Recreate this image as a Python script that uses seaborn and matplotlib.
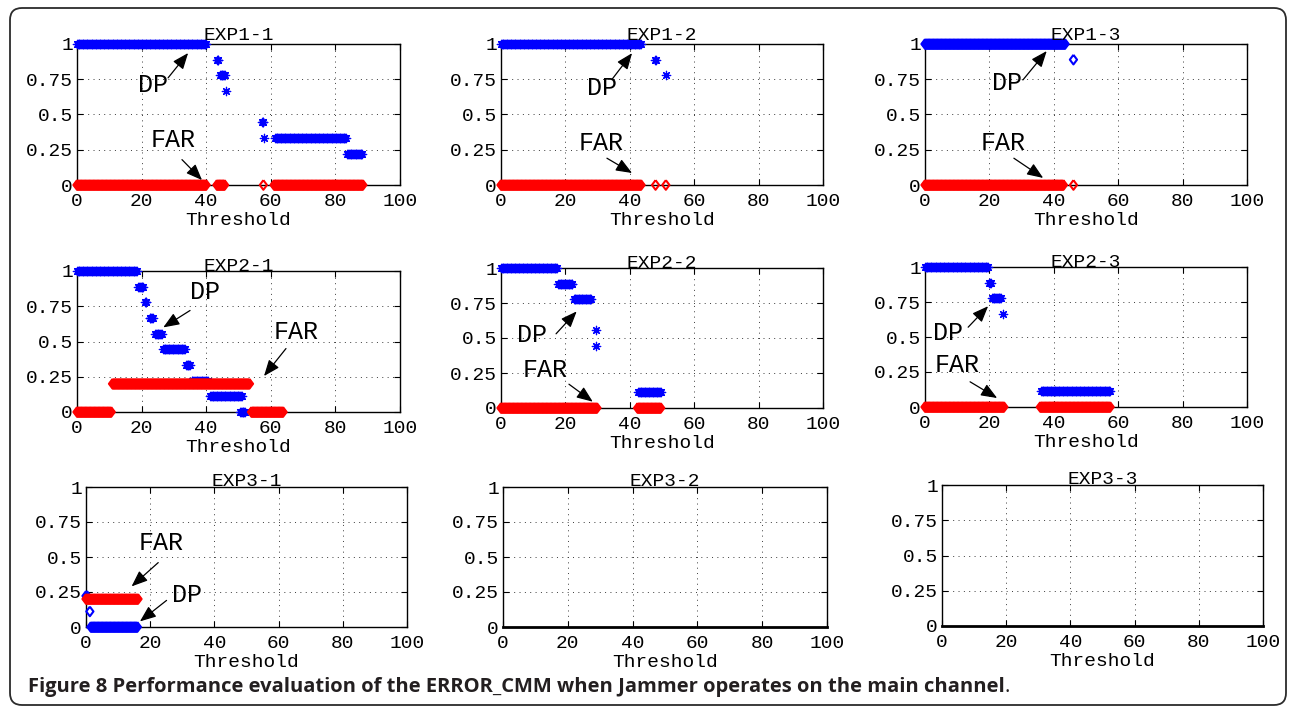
import numpy as np
import pandas as pd
import matplotlib
matplotlib.use("Agg")
import matplotlib.pyplot as plt
from matplotlib.patches import FancyBboxPatch
import seaborn as sns

# ---------------------------------------------------------------------------
# Data: each series is a list of runs (first threshold, last threshold, value)
# ---------------------------------------------------------------------------
THRESHOLD_STEP = 0.25

EXP1_1_DP = [(0, 40, 1.0), (43.3, 43.7, 0.889), (44.3, 45.7, 0.778), (46.2, 46.2, 0.667),
             (57.3, 57.7, 0.444), (58.0, 58.0, 0.333), (61.3, 83.3, 0.333), (83.7, 88.3, 0.222)]
EXP1_1_FAR = [(0, 40, 0.0), (43.3, 45.7, 0.0), (57.7, 57.7, 0.0), (61.0, 88.5, 0.0)]

EXP1_2_DP = [(0, 43.5, 1.0), (47.9, 48.2, 0.889), (51.2, 51.2, 0.778)]
EXP1_2_FAR = [(0, 43.5, 0.0), (48.0, 48.0, 0.0), (51.2, 51.2, 0.0)]

EXP1_3_DP = [(0, 43.5, 1.0), (46.1, 46.1, 0.889)]
EXP1_3_FAR = [(0, 43.0, 0.0), (46.1, 46.1, 0.0)]

EXP2_1_DP = [(0, 18.5, 1.0), (19.0, 20.5, 0.889), (21.0, 21.5, 0.778), (22.5, 23.5, 0.667),
             (24.2, 26.2, 0.556), (26.6, 33.4, 0.444), (33.8, 35.0, 0.333), (35.5, 40.6, 0.222),
             (41.2, 51.0, 0.111), (50.5, 52.0, 0.0)]
EXP2_1_FAR = [(0, 10.6, 0.0), (11.0, 53.4, 0.2), (54.0, 63.8, 0.0)]

EXP2_2_DP = [(0, 17.4, 1.0), (17.8, 22.2, 0.889), (22.6, 28.0, 0.778), (29.4, 29.4, 0.556),
             (29.6, 29.6, 0.444), (42.6, 49.6, 0.111)]
EXP2_2_FAR = [(0, 29.8, 0.0), (42.4, 49.6, 0.0)]

EXP2_3_DP = [(0, 19.6, 1.0), (20.0, 20.5, 0.889), (20.8, 23.6, 0.778), (24.2, 24.2, 0.667),
             (36.0, 57.5, 0.111)]
EXP2_3_FAR = [(0, 24.5, 0.0), (35.8, 57.5, 0.0)]

EXP3_1_DP = [(0, 0.3, 0.222), (1.2, 1.2, 0.111), (1.5, 16.0, 0.0)]
EXP3_1_FAR = [(0, 16.2, 0.2)]

EXP3_2_DP, EXP3_2_FAR = [], []
EXP3_3_DP, EXP3_3_FAR = [], []

PANEL_TITLES = ["EXP1-1", "EXP1-2", "EXP1-3",
                "EXP2-1", "EXP2-2", "EXP2-3",
                "EXP3-1", "EXP3-2", "EXP3-3"]
DP_SERIES = [EXP1_1_DP, EXP1_2_DP, EXP1_3_DP, EXP2_1_DP, EXP2_2_DP, EXP2_3_DP,
             EXP3_1_DP, EXP3_2_DP, EXP3_3_DP]
FAR_SERIES = [EXP1_1_FAR, EXP1_2_FAR, EXP1_3_FAR, EXP2_1_FAR, EXP2_2_FAR, EXP2_3_FAR,
              EXP3_1_FAR, EXP3_2_FAR, EXP3_3_FAR]
DP_MARKER = ["star", "star", "diamond", "star", "star", "star", "diamond", "star", "star"]

X_TICKS = [0, 20, 40, 60, 80, 100]
Y_TICKS = [0, 0.25, 0.5, 0.75, 1]
Y_TICK_LABELS = ["0", "0.25", "0.5", "0.75", "1"]

CAPTION = "Figure 8 Performance evaluation of the ERROR_CMM when Jammer operates on the main channel"

# Arrow call-outs: (label, text x, text y, tail x, tail y, head x, head y)
CALLOUTS = [
    [("DP", 23.5, 0.71, 28.2, 0.76, 34.4, 0.936), ("FAR", 29.7, 0.32, 32.5, 0.18, 38.7, 0.035)],
    [("DP", 31.4, 0.69, 34.5, 0.75, 40.7, 0.935), ("FAR", 31.0, 0.30, 32.9, 0.19, 40.7, 0.085)],
    [("DP", 25.5, 0.72, 30.4, 0.745, 37.8, 0.95), ("FAR", 24.2, 0.30, 27.6, 0.19, 36.7, 0.05)],
    [("DP", 39.6, 0.85, 35.0, 0.72, 26.7, 0.60), ("FAR", 67.8, 0.57, 64.7, 0.45, 57.9, 0.255)],
    [("DP", 9.5, 0.52, 17.1, 0.53, 23.5, 0.69), ("FAR", 13.7, 0.27, 21.1, 0.17, 28.5, 0.045)],
    [("DP", 7.1, 0.53, 13.4, 0.57, 19.6, 0.72), ("FAR", 9.9, 0.30, 14.0, 0.18, 22.4, 0.064)],
    [("FAR", 23.3, 0.60, 22.5, 0.46, 14.2, 0.29), ("DP", 31.4, 0.23, 25.1, 0.19, 16.8, 0.04)],
    [],
    [],
]

# ---------------------------------------------------------------------------
# Layout (pixel boxes: left, top, right, bottom)
# ---------------------------------------------------------------------------
W, H, DPI = 1292, 710, 100
AXES_BOXES = [
    (77, 44, 400, 185), (501, 44, 823, 185), (925, 44, 1247, 185),
    (77, 271, 400, 412), (501, 268, 823, 408), (925, 267, 1247, 407),
    (86, 487, 407, 627), (503, 487, 827, 627), (942, 485, 1263, 626),
]
TITLE_PAD = [3, 3, 3, 0, 0, 0, 0.6, 0.6, 0.6]

sns.set_theme(style="white")
plt.rcParams["font.family"] = ["Liberation Mono", "DejaVu Sans Mono"]
plt.rcParams["axes.unicode_minus"] = False

ASTERISK = (8, 2, 0)
DIAMOND = [(0, 1), (0.75, 0), (0, -1), (-0.75, 0), (0, 1)]


def runs_to_frame(runs):
    xs, ys = [], []
    for start, end, value in runs:
        n = int(round((end - start) / THRESHOLD_STEP)) + 1
        xs.extend(np.linspace(start, end, n))
        ys.extend([value] * n)
    return pd.DataFrame({"Threshold": xs, "value": ys})


def draw_series(ax, runs, color, marker):
    df = runs_to_frame(runs)
    if df.empty:
        return
    if marker == "star":
        sns.scatterplot(data=df, x="Threshold", y="value", ax=ax, marker=ASTERISK,
                        color=color, s=36, linewidth=0.9, legend=False,
                        zorder=3, clip_on=False)
    else:
        sns.scatterplot(data=df, x="Threshold", y="value", ax=ax, marker=DIAMOND,
                        color=color, facecolor="none", edgecolor=color, s=48,
                        linewidth=1.5, legend=False, zorder=3, clip_on=False)


fig = plt.figure(figsize=(W / DPI, H / DPI), dpi=DPI)
fig.patch.set_facecolor("white")

# Background layer in pixel coordinates for the frame and caption
bg = fig.add_axes([0, 0, 1, 1], zorder=-5)
bg.set_xlim(0, W)
bg.set_ylim(H, 0)
bg.axis("off")
bg.add_patch(FancyBboxPatch((10, 8), 1276, 697,
                            boxstyle="round,pad=0,rounding_size=12",
                            linewidth=1.3, edgecolor="#2b2b2b", facecolor="none"))

for i, (l, t, r, b) in enumerate(AXES_BOXES):
    ax = fig.add_axes([l / W, 1 - b / H, (r - l) / W, (b - t) / H])
    ax.set_facecolor("white")
    draw_series(ax, DP_SERIES[i], "#0000ff", DP_MARKER[i])
    draw_series(ax, FAR_SERIES[i], "#ff0000", "diamond")

    ax.set_xlim(0, 100)
    ax.set_ylim(0, 1)
    ax.set_xticks(X_TICKS)
    ax.set_xticklabels([str(v) for v in X_TICKS])
    ax.set_yticks(Y_TICKS)
    ax.set_yticklabels(Y_TICK_LABELS)
    ax.set_axisbelow(True)
    ax.grid(True, color="#3a3a3a", linewidth=0.7, linestyle=(0, (1, 4.5)))
    ax.tick_params(direction="in", length=4, width=0.8, top=True, right=True,
                   bottom=True, left=True, labelsize=14, colors="black")
    ax.tick_params(axis="x", pad=6)
    ax.tick_params(axis="y", pad=3)
    for sp in ax.spines.values():
        sp.set_visible(True)
        sp.set_color("black")
        sp.set_linewidth(1.0)
    if i >= 7:
        ax.spines["bottom"].set_linewidth(2.0)
    ax.set_xlabel("Threshold", fontsize=14, labelpad=1, color="black")
    ax.set_ylabel("")
    ax.set_title(PANEL_TITLES[i], fontsize=14, pad=TITLE_PAD[i], color="black")

    for label, tx, ty, ax0, ay0, hx, hy in CALLOUTS[i]:
        ax.text(tx, ty, label, fontsize=18, ha="center", va="center",
                color="black", zorder=6)
        ax.annotate("", xy=(hx, hy), xytext=(ax0, ay0),
                    arrowprops=dict(arrowstyle="-|>,head_length=0.7,head_width=0.28",
                                    color="black", lw=0.9, shrinkA=0, shrinkB=0,
                                    mutation_scale=14),
                    zorder=6, annotation_clip=False)

# Caption: bold sentence followed by a regular full stop
CAPTION_SIZE = 14.5
cap = fig.text(28 / W, 1 - 692 / H, CAPTION, fontsize=CAPTION_SIZE, fontweight="bold",
               family=["Open Sans", "DejaVu Sans"], color="#231f20",
               ha="left", va="baseline")
fig.canvas.draw()
ext = cap.get_window_extent(renderer=fig.canvas.get_renderer())
fig.text(ext.x1 / W, 1 - 692 / H, ".", fontsize=CAPTION_SIZE,
         family=["Open Sans", "DejaVu Sans"], color="#231f20", ha="left", va="baseline")

fig.savefig("out.png", dpi=DPI, facecolor="white")
